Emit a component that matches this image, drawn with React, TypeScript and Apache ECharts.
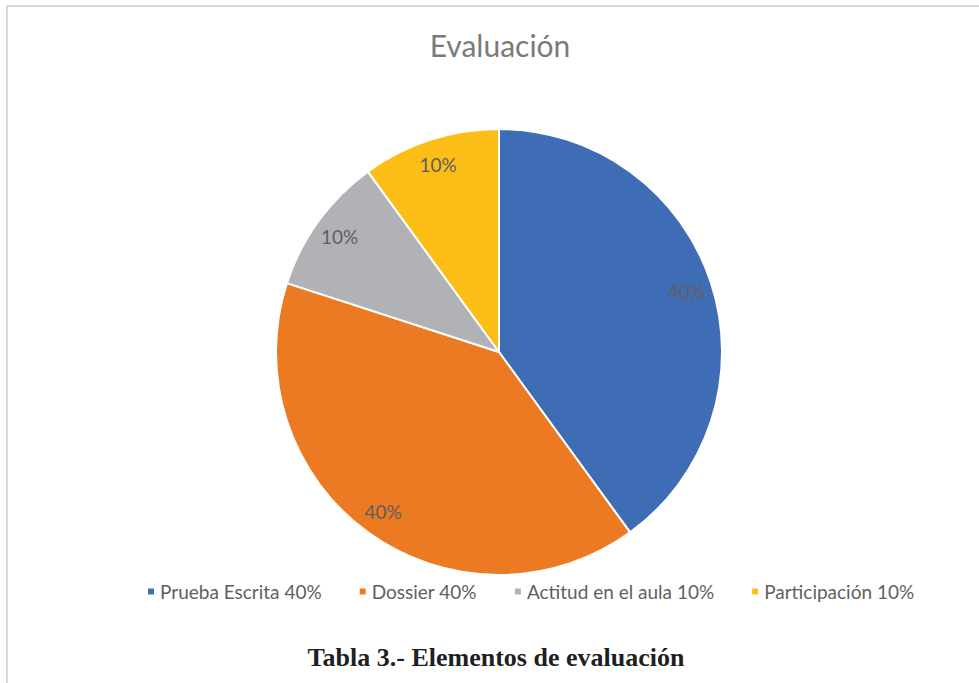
import React, { useEffect, useRef } from "react";
import * as echarts from "echarts";

const categories = ["Prueba Escrita 40%", "Dossier 40%", "Actitud en el aula 10%", "Participación 10%"];
const values = [40, 40, 10, 10];
const colors = ["#3E6DB5", "#EC7A22", "#B1B2B5", "#FBBD16"];
const titleText = "Evaluación";
const captionText = "Tabla 3.- Elementos de evaluación";

export default function App() {
  const ref = useRef<HTMLDivElement>(null);
  useEffect(() => {
    const chart = echarts.init(ref.current!, null, { renderer: "svg" });
    const data = categories.map((name, i) => ({ name, value: values[i], itemStyle: { color: colors[i] } }));
    chart.setOption({
      animation: false,
      backgroundColor: "#ffffff",
      title: [
        {
          text: titleText,
          left: 495,
          textAlign: "center",
          top: 25,
          textStyle: { fontFamily: "Lato", fontWeight: "normal", fontSize: 30, color: "#7A7A7A" },
        },
        {
          text: captionText,
          left: 491,
          textAlign: "center",
          top: 639,
          textStyle: { fontFamily: "Liberation Serif", fontWeight: "bold", fontSize: 26, color: "#1F1F1F" },
        },
      ],
      graphic: [
        {
          type: "rect",
          shape: { x: 7, y: 6, width: 1000, height: 700 },
          style: { fill: "none", stroke: "#D9D9D9", lineWidth: 2 },
          silent: true,
        },
      ],
      legend: {
        data: categories,
        left: 141,
        top: 577,
        icon: "rect",
        itemWidth: 8,
        itemHeight: 8,
        itemGap: 36,
        textStyle: { fontFamily: "Lato", fontSize: 19, color: "#5F5F5F" },
      },
      series: [
        {
          type: "pie",
          center: [499, 352],
          radius: [0, 223],
          startAngle: 90,
          clockwise: true,
          data,
          label: { show: false },
          labelLine: { show: false },
          itemStyle: { borderColor: "#ffffff", borderWidth: 2 },
          emphasis: { disabled: true },
        },
        {
          type: "pie",
          center: [499, 352],
          radius: [165, 223],
          startAngle: 90,
          clockwise: true,
          silent: true,
          data: categories.map((name, i) => ({ name, value: values[i] })),
          itemStyle: { color: "rgba(0,0,0,0)" },
          label: {
            show: true,
            position: "inside",
            formatter: (p: any) => `${p.value}%`,
            fontFamily: "Lato",
            fontSize: 19,
            color: "#5F5F5F",
          },
          labelLine: { show: false },
          emphasis: { disabled: true },
        },
      ],
    });
    return () => chart.dispose();
  }, []);
  return <div ref={ref} style={{ position: "absolute", left: 0, top: 0, width: 979, height: 683 }} />;
}
